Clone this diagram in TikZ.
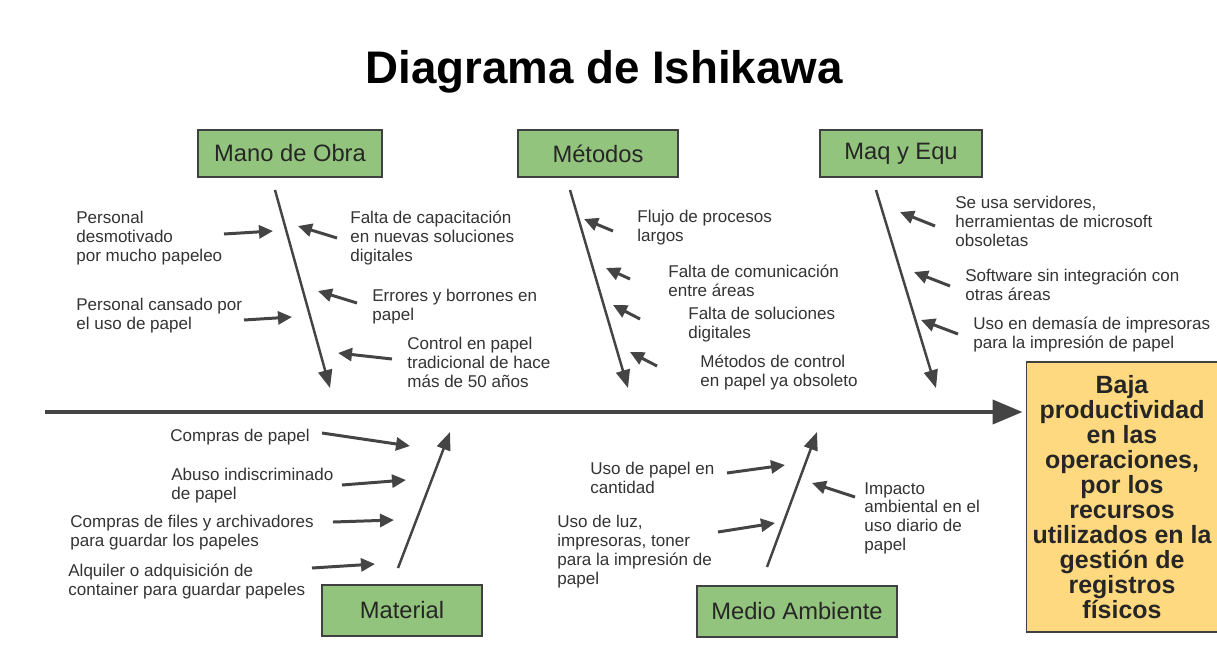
\documentclass[tikz,border=0pt]{standalone}
\usepackage{fontspec}
\setmainfont{Liberation Sans}
\usepackage{xcolor}
\usetikzlibrary{arrows.meta, positioning, calc}

\definecolor{catgreen}{HTML}{93C47D}
\definecolor{effyellow}{HTML}{FFD97F}
\definecolor{inkgray}{HTML}{444444}
\definecolor{txtgray}{HTML}{333333}

\begin{document}
\begin{tikzpicture}[
    x=0.02cm, y=-0.02cm,
    cat/.style={rectangle, draw=black!75, fill=catgreen, line width=0.8pt, minimum height=0.94cm, inner sep=0pt, font=\fontsize{13.5}{16}\selectfont, text=black!85},
    effect/.style={rectangle, draw=black!75, fill=effyellow, line width=0.8pt, minimum width=3.74cm, minimum height=5.4cm, align=center, font=\fontsize{14.2}{14.2}\selectfont\bfseries, text=black!85},
    cause/.style={anchor=north west, inner sep=0pt, align=left, font=\fontsize{9.7}{10.7}\selectfont, text=txtgray},
    spine/.style={draw=inkgray, line width=2.3pt, -{Triangle[length=0.6cm, width=0.48cm]}},
    bone/.style={draw=inkgray, line width=1.4pt, -{Triangle[length=0.36cm, width=0.28cm]}},
    sub/.style={draw=inkgray, line width=1.7pt, -{Triangle[length=0.28cm, width=0.26cm]}}
]
\useasboundingbox[fill=white] (0,0) rectangle (1217,657);

% Title
\node[font=\fontsize{26}{30}\selectfont\bfseries] (title) at (604,72) {Diagrama de Ishikawa};

% Categories
\node[cat, minimum width=3.68cm] (mano) at (290,153.5) {Mano de Obra};
\node[cat, minimum width=3.2cm] (metodos) at (598,153.5) {Métodos};
\node[cat, minimum width=3.24cm] (maq) at (901,153.5) {Maq y Equ};
\node[cat, minimum width=3.2cm, minimum height=1.02cm] (material) at (402,610.5) {Material};
\node[cat, minimum width=4cm, minimum height=1.02cm] (medio) at (797,611.5) {Medio Ambiente};

% Effect
\node[effect] (efecto) at (1122,497) {Baja\\productividad\\en las\\operaciones,\\por los\\recursos\\utilizados en la\\gestión de\\registros\\físicos};

% Spine
\coordinate (tail) at (45,412);
\draw[spine, shorten >=2pt] (tail) -- (tail -| efecto.west);

% Bones
\coordinate (mo1) at (275,190); \coordinate (mo2) at (330,388);
\coordinate (me1) at (570,190); \coordinate (me2) at (628,388);
\coordinate (mq1) at (876,190); \coordinate (mq2) at (936,388);
\coordinate (ma1) at (398,568); \coordinate (ma2) at (450,432);
\coordinate (md1) at (767,567); \coordinate (md2) at (817,432);
\draw[bone] (mo1) -- (mo2);
\draw[bone] (me1) -- (me2);
\draw[bone] (mq1) -- (mq2);
\draw[bone] (ma1) -- (ma2);
\draw[bone] (md1) -- (md2);

% Mano de Obra causes
\node[cause] (c1) at (76,211) {Personal\\desmotivado\\por mucho papeleo};
\node[cause] (c2) at (76,298) {Personal cansado por\\el uso de papel};
\node[cause] (c3) at (350,211) {Falta de capacitación\\en nuevas soluciones\\digitales};
\node[cause] (c4) at (372,289) {Errores y borrones en\\papel};
\node[cause] (c5) at (407,337) {Control en papel\\tradicional de hace\\más de 50 años};
\coordinate (a1) at (224,234); \coordinate (b1) at (273,231);
\coordinate (a2) at (244,320); \coordinate (b2) at (292,317);
\coordinate (a3) at (337,238); \coordinate (b3) at (298,226);
\coordinate (a4) at (357,303); \coordinate (b4) at (318,291);
\coordinate (a5) at (392,359); \coordinate (b5) at (338,353);
\draw[sub] (a1) -- (b1);
\draw[sub] (a2) -- (b2);
\draw[sub] (a3) -- (b3);
\draw[sub] (a4) -- (b4);
\draw[sub] (a5) -- (b5);

% Metodos causes
\node[cause] (c6) at (637,210) {Flujo de procesos\\largos};
\node[cause] (c7) at (668,265) {Falta de comunicación\\entre áreas};
\node[cause] (c8) at (688,307) {Falta de soluciones\\digitales};
\node[cause] (c9) at (700,355) {Métodos de control\\en papel ya obsoleto};
\coordinate (a6) at (613,231); \coordinate (b6) at (584,219);
\coordinate (a7) at (630,279); \coordinate (b7) at (606,268);
\coordinate (a8) at (640,319); \coordinate (b8) at (613,305);
\coordinate (a9) at (657,366); \coordinate (b9) at (630,352);
\draw[sub] (a6) -- (b6);
\draw[sub] (a7) -- (b7);
\draw[sub] (a8) -- (b8);
\draw[sub] (a9) -- (b9);

% Maq y Equ causes
\node[cause] (c10) at (955,196) {Se usa servidores,\\herramientas de microsoft\\obsoletas};
\node[cause] (c11) at (965,269) {Software sin integración con\\otras áreas};
\node[cause] (c12) at (973,317) {Uso en demasía de impresoras\\para la impresión de papel};
\coordinate (a10) at (935,226); \coordinate (b10) at (900,212);
\coordinate (a11) at (950,286); \coordinate (b11) at (914,272);
\coordinate (a12) at (958,334); \coordinate (b12) at (921,320);
\draw[sub] (a10) -- (b10);
\draw[sub] (a11) -- (b11);
\draw[sub] (a12) -- (b12);

% Material causes
\node[cause] (c13) at (170,429) {Compras de papel};
\node[cause] (c14) at (171,468) {Abuso indiscriminado\\de papel};
\node[cause] (c15) at (70,515) {Compras de files y archivadores\\para guardar los papeles};
\node[cause] (c16) at (68,564) {Alquiler o adquisición de\\container para guardar papeles};
\coordinate (a13) at (322,433); \coordinate (b13) at (410,446);
\coordinate (a14) at (342,485); \coordinate (b14) at (406,480);
\coordinate (a15) at (333,522); \coordinate (b15) at (394,520);
\coordinate (a16) at (312,568); \coordinate (b16) at (375,564);
\draw[sub] (a13) -- (b13);
\draw[sub] (a14) -- (b14);
\draw[sub] (a15) -- (b15);
\draw[sub] (a16) -- (b16);

% Medio Ambiente causes
\node[cause] (c17) at (590,462) {Uso de papel en\\cantidad};
\node[cause] (c18) at (557,515) {Uso de luz,\\impresoras, toner\\para la impresión de\\papel};
\node[cause] (c19) at (864,482) {Impacto\\ambiental en el\\uso diario de\\papel};
\coordinate (a17) at (727,473); \coordinate (b17) at (785,465);
\coordinate (a18) at (718,532); \coordinate (b18) at (775,523);
\coordinate (a19) at (855,497); \coordinate (b19) at (812,483);
\draw[sub] (a17) -- (b17);
\draw[sub] (a18) -- (b18);
\draw[sub] (a19) -- (b19);

\end{tikzpicture}
\end{document}
